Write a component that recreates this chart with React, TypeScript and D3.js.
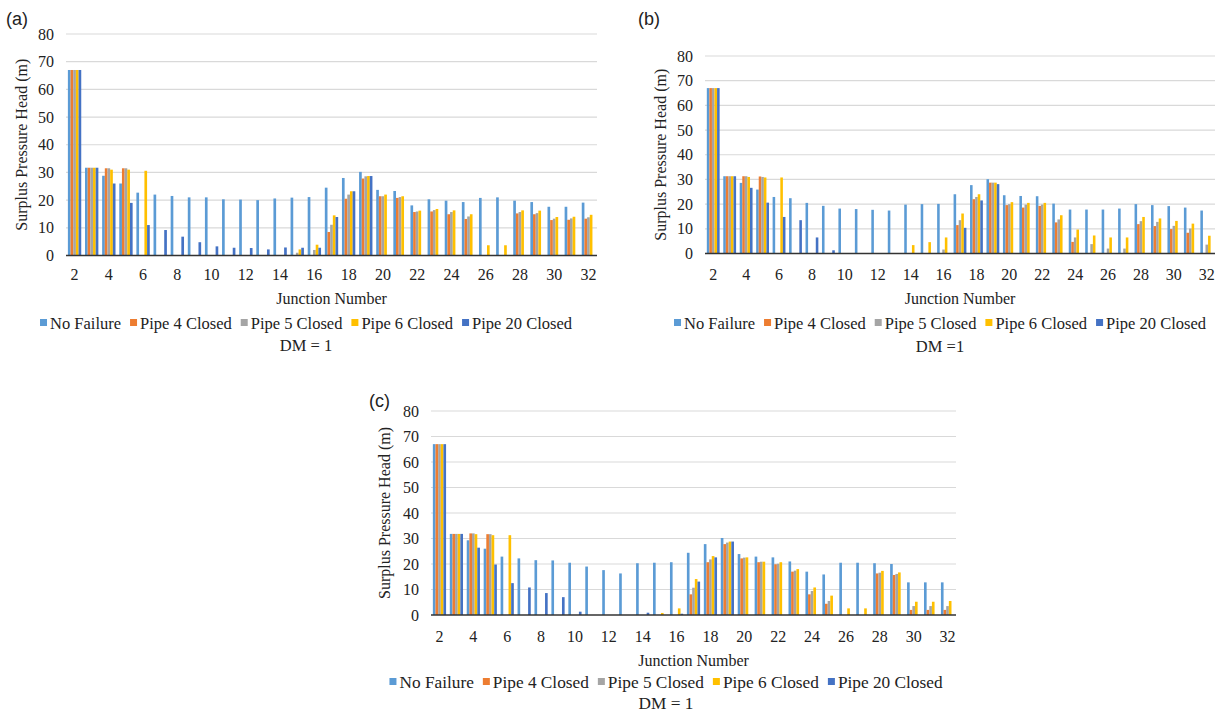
import React, { useEffect, useRef } from 'react';
import * as d3 from 'd3';

const junctions = [2, 3, 4, 5, 6, 7, 8, 9, 10, 11, 12, 13, 14, 15, 16, 17, 18, 19, 20, 21, 22, 23, 24, 25, 26, 27, 28, 29, 30, 31, 32];
const seriesNames = ['No Failure', 'Pipe 4 Closed', 'Pipe 5 Closed', 'Pipe 6 Closed', 'Pipe 20 Closed'];
const seriesColors = ['#5B9BD5', '#ED7D31', '#A5A5A5', '#FFC000', '#4472C4'];
const yTicks = [0, 10, 20, 30, 40, 50, 60, 70, 80];
const xTickLabels = [2, 4, 6, 8, 10, 12, 14, 16, 18, 20, 22, 24, 26, 28, 30, 32];

// panel (a)
const aNoFailure = [67, 31.7, 28.8, 26, 22.7, 22, 21.5, 21, 21, 20.3, 20.2, 20, 20.6, 20.9, 21.1, 24.5, 28, 30.2, 23.7, 23.3, 18.1, 20.3, 19.8, 19.3, 20.8, 21, 19.8, 19.3, 17.6, 17.6, 19.1];
const aPipe4 = [67, 31.7, 31.5, 31.5, 0, 0, 0, 0, 0, 0, 0, 0, 0, 0, 0, 8.5, 20.5, 27.8, 21.4, 20.8, 15.7, 15.9, 14.9, 13.2, 0, 0, 15.2, 14.9, 12.8, 12.9, 13.3];
const aPipe5 = [67, 31.7, 31.5, 31.5, 0, 0, 0, 0, 0, 0, 0, 0, 0, 1, 2, 11.1, 22, 28.6, 21.4, 21.1, 15.9, 16.4, 15.7, 14.1, 0, 0, 15.7, 15.3, 13.3, 13.4, 13.8];
const aPipe6 = [67, 31.7, 31, 31, 30.6, 0, 0, 0, 0, 0, 0, 0, 0, 2.2, 3.9, 14.5, 23.2, 28.7, 22, 21.4, 16.2, 16.8, 16.3, 14.9, 3.7, 3.7, 16.3, 16.2, 13.9, 14, 14.7];
const aPipe20 = [67, 31.7, 26, 19, 11, 9.2, 6.8, 4.8, 3.3, 2.8, 2.7, 2.2, 2.9, 2.8, 2.8, 13.9, 23.2, 28.7, 0, 0, 0, 0, 0, 0, 0, 0, 0, 0, 0, 0, 0];

// panel (b)
const bNoFailure = [67, 31.3, 28.6, 25.9, 22.9, 22.4, 20.5, 19.3, 18.2, 18, 17.7, 17.4, 19.8, 20, 20.1, 24, 27.7, 30.1, 23.6, 23.3, 23.2, 20.2, 17.8, 17.8, 17.8, 18.2, 20, 19.6, 19.2, 18.6, 17.4];
const bPipe4 = [67, 31.3, 31.3, 31.2, 0, 0, 0, 0, 0, 0, 0, 0, 0, 0, 0, 11.5, 22, 28.7, 19.6, 18.6, 19.3, 12.6, 4.7, 0, 0, 0, 11.9, 11.1, 9.9, 8.4, 0];
const bPipe5 = [67, 31.3, 31.3, 31, 0, 0, 0, 0, 0, 0, 0, 0, 0, 0, 1.6, 13.5, 22.9, 28.7, 20, 19.8, 19.8, 13.8, 6.5, 3.8, 2, 2, 13.1, 12.8, 11.2, 10.1, 3.6];
const bPipe6 = [67, 31.3, 31, 30.8, 30.8, 0, 0, 0, 0, 0, 0, 0, 3.4, 4.6, 6.5, 16.2, 24, 28.7, 20.8, 20.5, 20.5, 15.5, 9.7, 7.3, 6.5, 6.5, 14.8, 14.2, 13.2, 12.1, 7.2];
const bPipe20 = [67, 31.3, 26.6, 20.6, 14.8, 13.5, 6.5, 1.3, 0, 0, 0, 0, 0, 0, 0, 10.4, 21.5, 28.1, 0, 0, 0, 0, 0, 0, 0, 0, 0, 0, 0, 0, 0];

// panel (c)
const cNoFailure = [67, 31.8, 29.3, 26, 22.9, 22.2, 21.5, 21.4, 20.5, 19, 17.6, 16.3, 20.3, 20.5, 20.7, 24.4, 27.8, 30.2, 23.9, 22.9, 22.6, 21, 17, 15.9, 20.5, 20.5, 20.3, 20, 12.8, 12.8, 12.8];
const cPipe4 = [67, 31.8, 32, 31.7, 0, 0, 0, 0, 0, 0, 0, 0, 0, 0, 0, 8.1, 20.7, 27.8, 22.2, 20.7, 19.9, 17, 8.1, 4.4, 0, 0, 16.3, 15.7, 2, 2, 2];
const cPipe5 = [67, 31.8, 32, 31.7, 0, 0, 0, 0, 0, 0, 0, 0, 0, 0, 0, 10.7, 21.8, 28.4, 22.5, 20.9, 20.1, 17.4, 9.4, 5.5, 0, 0, 16.6, 16.1, 3.5, 3.5, 3.5];
const cPipe6 = [67, 31.8, 31.7, 31.3, 31.3, 0, 0, 0, 0, 0, 0, 0, 0, 0.8, 2.6, 14.1, 23.1, 28.8, 22.6, 20.9, 20.7, 18, 10.8, 7.6, 2.6, 2.6, 17.3, 16.7, 5.2, 5.2, 5.5];
const cPipe20 = [67, 31.8, 26.4, 19.8, 12.5, 10.8, 8.6, 7, 1.3, 0, 0, 0, 0.9, 0, 0.5, 13.1, 22.6, 28.8, 0, 0, 0, 0, 0, 0, 0, 0, 0, 0, 0, 0, 0];

const panels = [
  { tag: '(a)', tagX: 6, tagY: 25, left: 66, right: 597, top: 34, bottom: 255.5, yTitleX: 27, tickY: 280, xTitleY: 304, legendY: 329, legendCx: 306, legendSize: 16.5, dmY: 351, dm: 'DM = 1',
    series: [aNoFailure, aPipe4, aPipe5, aPipe6, aPipe20] },
  { tag: '(b)', tagX: 638, tagY: 25, left: 705, right: 1215, top: 56, bottom: 253.5, yTitleX: 666, tickY: 280, xTitleY: 304, legendY: 329, legendCx: 940, legendSize: 16.5, dmY: 352, dm: 'DM =1',
    series: [bNoFailure, bPipe4, bPipe5, bPipe6, bPipe20] },
  { tag: '(c)', tagX: 369, tagY: 407, left: 431, right: 956, top: 411, bottom: 615, yTitleX: 390, tickY: 642, xTitleY: 666, legendY: 688, legendCx: 666, legendSize: 17.3, dmY: 709, dm: 'DM = 1',
    series: [cNoFailure, cPipe4, cPipe5, cPipe6, cPipe20] },
];

const SERIF = "'Liberation Serif', 'Times New Roman', serif";

export default function App() {
  const ref = useRef(null);

  useEffect(() => {
    const svg = d3.select(ref.current);
    svg.selectAll('*').remove();

    panels.forEach(p => {
      const g = svg.append('g').style('font-family', SERIF).attr('fill', '#222');

      const x0 = d3.scaleBand().domain(junctions).range([p.left, p.right]).paddingInner(0.22).paddingOuter(0.11);
      const x1 = d3.scaleBand().domain(d3.range(seriesNames.length)).range([0, x0.bandwidth()]);
      const y = d3.scaleLinear().domain([0, 80]).range([p.bottom, p.top]);

      // gridlines
      g.append('g')
        .selectAll('line')
        .data(yTicks.filter(t => t > 0))
        .join('line')
        .attr('x1', p.left).attr('x2', p.right)
        .attr('y1', d => y(d)).attr('y2', d => y(d))
        .attr('stroke', '#D9D9D9').attr('stroke-width', 1.2);

      // y tick labels
      g.append('g')
        .selectAll('text')
        .data(yTicks)
        .join('text')
        .attr('x', p.left - 12)
        .attr('y', d => y(d))
        .attr('dy', '0.35em')
        .attr('text-anchor', 'end')
        .style('font-family', SERIF)
        .attr('font-size', 16)
        .text(d => d);

      // bars
      const groups = g.append('g')
        .selectAll('g')
        .data(junctions.map((j, i) => ({ j, vals: p.series.map(s => s[i]) })))
        .join('g')
        .attr('transform', d => `translate(${x0(d.j)},0)`);
      groups.selectAll('rect')
        .data(d => d.vals.map((v, k) => ({ v, k })))
        .join('rect')
        .attr('x', d => x1(d.k))
        .attr('width', x1.bandwidth())
        .attr('y', d => y(d.v))
        .attr('height', d => y(0) - y(d.v))
        .attr('fill', d => seriesColors[d.k]);

      // x axis line
      g.append('line')
        .attr('x1', p.left).attr('x2', p.right)
        .attr('y1', y(0)).attr('y2', y(0))
        .attr('stroke', '#333').attr('stroke-width', 1.5);

      // x tick labels
      g.append('g')
        .selectAll('text')
        .data(xTickLabels)
        .join('text')
        .attr('x', d => x0(d) + x0.bandwidth() / 2)
        .attr('y', p.tickY)
        .attr('text-anchor', 'middle')
        .style('font-family', SERIF)
        .attr('font-size', 16)
        .text(d => d);

      g.append('text')
        .attr('x', (p.left + p.right) / 2)
        .attr('y', p.xTitleY)
        .attr('text-anchor', 'middle')
        .style('font-family', SERIF)
        .attr('font-size', 16)
        .text('Junction Number');

      g.append('text')
        .attr('transform', `translate(${p.yTitleX},${(p.top + p.bottom) / 2}) rotate(-90)`)
        .attr('text-anchor', 'middle')
        .style('font-family', SERIF)
        .attr('font-size', 16)
        .text('Surplus Pressure Head (m)');

      g.append('text')
        .attr('x', p.tagX)
        .attr('y', p.tagY)
        .attr('font-size', 18)
        .style('font-family', "'Liberation Sans', Arial, sans-serif")
        .text(p.tag);

      // legend
      const leg = g.append('g');
      let cx = 0;
      seriesNames.forEach((name, k) => {
        leg.append('rect')
          .attr('x', cx).attr('y', p.legendY - 10)
          .attr('width', 7).attr('height', 7)
          .attr('fill', seriesColors[k]);
        const t = leg.append('text')
          .attr('x', cx + 10)
          .attr('y', p.legendY)
          .style('font-family', SERIF)
          .attr('font-size', p.legendSize)
          .text(name);
        cx += 10 + t.node().getComputedTextLength() + 9;
      });
      const legW = cx - 9;
      leg.attr('transform', `translate(${p.legendCx - legW / 2},0)`);

      g.append('text')
        .attr('x', p.legendCx)
        .attr('y', p.dmY)
        .attr('text-anchor', 'middle')
        .style('font-family', SERIF)
        .attr('font-size', p.legendSize)
        .text(p.dm);
    });
  }, []);

  return (
    <div style={{ position: 'absolute', left: 0, top: 0 }}>
      <svg ref={ref} width={1226} height={713} style={{ display: 'block', background: '#fff' }}></svg>
    </div>
  );
}
